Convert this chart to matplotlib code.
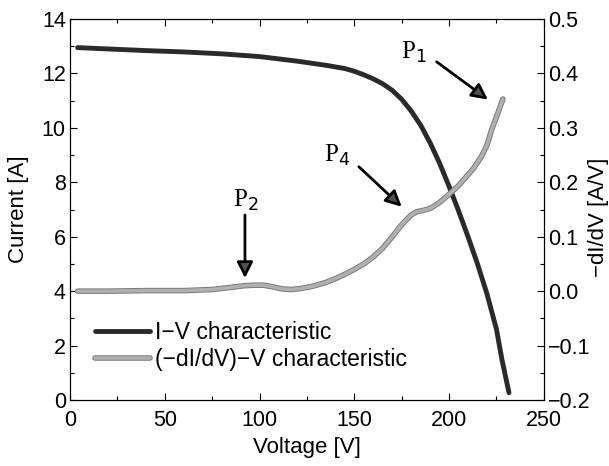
import matplotlib
matplotlib.use("Agg")
import matplotlib.pyplot as plt
import matplotlib.patheffects as pe
from matplotlib.ticker import MultipleLocator

# I-V characteristic
iv_volt = [4, 20, 40, 60, 80, 100, 120, 135, 145, 150, 155, 160, 165, 170, 175,
           180, 185, 190, 195, 200, 205, 210, 215, 220, 225, 228, 231.6]
iv_curr = [12.95, 12.9, 12.84, 12.79, 12.72, 12.62, 12.45, 12.30, 12.18, 12.08,
           11.95, 11.8, 11.62, 11.38, 11.05, 10.62, 10.1, 9.45, 8.7, 7.85, 6.95,
           6.0, 5.0, 3.9, 2.6, 1.45, 0.27]

# (-dI/dV)-V characteristic
dd_volt = [4, 20, 40, 60, 75, 85, 92, 97, 102, 107, 112, 117, 122, 128, 135, 140,
           145, 150, 155, 160, 165, 170, 175, 180, 183, 186, 190, 195, 200, 205,
           209, 213, 217, 220, 222.4, 225, 228.4]
dd_val = [0.000, 0.000, 0.001, 0.001, 0.003, 0.007, 0.010, 0.011, 0.011, 0.008,
          0.004, 0.003, 0.005, 0.009, 0.016, 0.023, 0.031, 0.040, 0.050, 0.063,
          0.079, 0.100, 0.122, 0.140, 0.146, 0.148, 0.152, 0.163, 0.178, 0.194,
          0.210, 0.226, 0.247, 0.268, 0.296, 0.320, 0.353]

# peak annotations: label, text pos, arrow start, arrow tip (right-axis units)
peaks = [
    ("P$_1$", (181.4, 0.439), (193.4, 0.4215), (220.5, 0.352)),
    ("P$_4$", (140.7, 0.250), (152.4, 0.2286), (175.0, 0.155)),
    ("P$_2$", (92.8, 0.167), (92.3, 0.140), (92.3, 0.024)),
]

plt.rcParams['font.family'] = ['Liberation Sans', 'DejaVu Sans']
plt.rcParams['axes.unicode_minus'] = True

fig = plt.figure(figsize=(6.09, 4.66), dpi=100)
ax = fig.add_axes([0.115, 0.1416, 0.778, 0.8176])
ax2 = ax.twinx()

gray_fx = [pe.Stroke(linewidth=4.0, foreground='#7a7a7a'), pe.Normal()]
l1, = ax.plot(iv_volt, iv_curr, color='#2a2a2a', lw=3.5, solid_capstyle='round',
              label='I\u2212V characteristic')
l2, = ax2.plot(dd_volt, dd_val, color='#b0b0b0', lw=2.6, solid_capstyle='round',
               path_effects=gray_fx, label='(\u2212dI/dV)\u2212V characteristic')

ax.set_xlim(0, 250)
ax.set_ylim(0, 14)
ax2.set_ylim(-0.2, 0.5)

ax.xaxis.set_major_locator(MultipleLocator(50))
ax.xaxis.set_minor_locator(MultipleLocator(25))
ax.yaxis.set_major_locator(MultipleLocator(2))
ax.yaxis.set_minor_locator(MultipleLocator(1))
ax2.yaxis.set_major_locator(MultipleLocator(0.1))
ax2.yaxis.set_minor_locator(MultipleLocator(0.05))
ax2.yaxis.set_major_formatter(lambda v, p: f"{v:.1f}".replace('-', '\u2212'))

ax.tick_params(axis='both', which='both', direction='in', labelsize=15.5, top=True)
ax.tick_params(axis='x', pad=7)
ax.tick_params(axis='y', pad=3)
ax.tick_params(which='major', length=5, width=0.8)
ax.tick_params(which='minor', length=3, width=0.8)
ax2.tick_params(axis='y', which='both', direction='in', labelsize=15.5, pad=3)
ax2.tick_params(which='major', length=5, width=0.8)
ax2.tick_params(which='minor', length=3, width=0.8)

ax.set_xlabel("Voltage [V]", fontsize=16)
ax.set_ylabel("Current [A]", fontsize=16)
ax2.set_ylabel("\u2212dI/dV [A/V]", fontsize=16)
ax.xaxis.set_label_coords(0.5, -0.097)
ax.yaxis.set_label_coords(-0.087, 0.5)
ax2.yaxis.set_label_coords(1.093, 0.48)

for name, txt, start, tip in peaks:
    ax2.annotate("", xy=tip, xytext=start,
                 arrowprops=dict(arrowstyle='-|>', mutation_scale=24, lw=2,
                                 color='black', fc='#505050', shrinkA=0, shrinkB=0))
    ax2.text(txt[0], txt[1], name, fontsize=18, family='Liberation Serif',
             ha='center', va='center')

leg = ax.legend(handles=[l1, l2], loc='lower left', bbox_to_anchor=(0.053, 0.075),
                frameon=False, fontsize=16.5, handlelength=2.4, handletextpad=0.22,
                labelspacing=0.2, borderpad=0, borderaxespad=0)

fig.savefig("out.png", dpi=100)
